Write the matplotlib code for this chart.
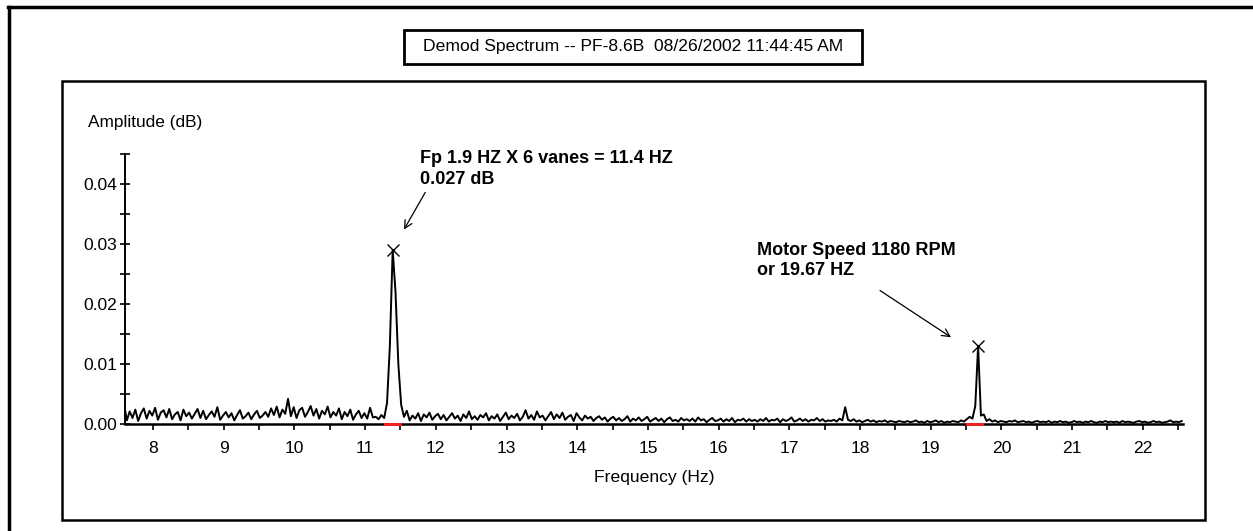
import numpy as np
import matplotlib
matplotlib.use('Agg')
import matplotlib.pyplot as plt
from matplotlib.patches import Rectangle
from matplotlib.lines import Line2D
from matplotlib.ticker import MultipleLocator, FormatStrFormatter

plt.rcParams['font.family'] = ['Liberation Sans', 'DejaVu Sans']

# spectrum, one value every 0.04 Hz starting at 7.59 Hz, amplitude in units of 0.001 dB
freq_start = 7.59
freq_step = 0.04
amp_x1000 = [
    3.4, 0.6, 2.1, 1.0, 2.4, 0.5, 1.8, 2.6, 0.9, 2.2, 1.4, 2.7, 0.7, 1.9, 2.3, 1.1, 2.5, 0.8, 1.6, 2.0, 0.6, 2.4, 1.3, 1.9, 0.9,
    1.7, 2.5, 1.0, 2.2, 0.8, 1.5, 2.1, 1.2, 2.8, 0.7, 1.4, 2.0, 1.1, 1.8, 0.6, 1.5, 2.3, 0.9, 1.3, 1.9, 0.8, 1.6, 2.2, 1.0, 1.4,
    2.0, 1.2, 2.6, 1.5, 2.9, 1.1, 2.4, 1.7, 4.2, 1.3, 2.8, 1.0, 2.3, 2.7, 1.2, 2.0, 3.0, 1.4, 2.5, 0.9, 2.2, 1.6, 2.9, 1.1, 2.0,
    1.4, 2.6, 0.8, 2.0, 1.3, 2.4, 0.7, 1.6, 2.2, 1.0, 1.8, 0.9, 2.7, 1.1, 1.2, 0.8, 1.5, 1.0, 3.5, 13.0, 29.0, 22.0, 10.0, 3.2, 1.2,
    2.2, 0.6, 1.4, 0.9, 1.8, 0.5, 1.6, 1.1, 1.9, 0.7, 1.3, 1.7, 0.8, 1.5, 0.6, 1.2, 1.8, 0.9, 1.4, 0.5, 1.6, 1.0, 2.1, 0.8, 1.3,
    0.7, 1.5, 1.1, 1.8, 0.6, 1.3, 0.9, 1.6, 0.5, 1.2, 1.9, 0.8, 1.4, 1.0, 1.7, 0.6, 1.2, 2.3, 0.9, 1.5, 0.7, 2.1, 1.1, 1.4, 0.6,
    1.3, 2.0, 0.8, 1.6, 1.0, 1.9, 0.7, 1.2, 1.5, 0.5, 1.8, 1.1, 0.6, 1.4, 0.9, 1.2, 0.5, 1.0, 1.3, 0.7, 1.1, 0.4, 0.9, 1.2, 0.6,
    1.0, 0.5, 0.8, 1.3, 0.4, 0.9, 0.6, 1.1, 0.5, 0.8, 1.2, 0.4, 0.7, 1.0, 0.5, 0.9, 0.3, 0.8, 1.1, 0.5, 0.7, 0.4, 1.0, 0.6, 0.8,
    0.5, 0.9, 0.4, 1.1, 0.6, 0.8, 0.3, 0.7, 1.0, 0.5, 0.6, 0.9, 0.4, 0.8, 0.5, 1.0, 0.3, 0.7, 0.6, 0.9, 0.4, 0.8, 0.5, 0.7, 0.4,
    0.8, 0.5, 1.0, 0.4, 0.7, 0.6, 0.9, 0.3, 0.8, 0.5, 0.7, 1.1, 0.4, 0.6, 0.9, 0.5, 0.8, 0.4, 0.7, 0.6, 1.0, 0.5, 0.8, 0.4, 0.6,
    0.5, 0.7, 0.4, 0.9, 0.6, 2.8, 0.7, 0.5, 0.8, 0.4, 0.6, 0.3, 0.5, 0.7, 0.4, 0.6, 0.3, 0.5, 0.4, 0.6, 0.3, 0.5, 0.4, 0.3, 0.5,
    0.4, 0.3, 0.5, 0.3, 0.4, 0.6, 0.3, 0.4, 0.2, 0.5, 0.3, 0.4, 0.6, 0.3, 0.5, 0.2, 0.4, 0.3, 0.5, 0.4, 0.3, 0.6, 0.4, 0.8, 1.2,
    0.9, 3.0, 13.0, 1.4, 1.6, 0.5, 0.8, 0.4, 0.6, 0.3, 0.5, 0.4, 0.3, 0.5, 0.4, 0.6, 0.3, 0.4, 0.5, 0.3, 0.4, 0.2, 0.4, 0.5, 0.3,
    0.4, 0.3, 0.5, 0.2, 0.4, 0.3, 0.5, 0.3, 0.4, 0.2, 0.3, 0.5, 0.3, 0.4, 0.2, 0.4, 0.3, 0.5, 0.3, 0.2, 0.4, 0.3, 0.5, 0.3, 0.4,
    0.3, 0.4, 0.2, 0.5, 0.3, 0.4, 0.3, 0.2, 0.4, 0.5, 0.3, 0.4, 0.2, 0.3, 0.5, 0.3, 0.4, 0.2, 0.3, 0.4, 0.6, 0.3, 0.4, 0.3, 0.5,
]
# frequency bands flagged in red on the x axis
bands = [(11.28, 11.49), (19.51, 19.73)]
# peak search windows for the X markers
peak_windows = [(11.2, 11.6), (19.5, 19.8)]

title = 'Demod Spectrum -- PF-8.6B  08/26/2002 11:44:45 AM'
note1 = 'Fp 1.9 HZ X 6 vanes = 11.4 HZ\n0.027 dB'
note2 = 'Motor Speed 1180 RPM\nor 19.67 HZ'

amp = np.array(amp_x1000) / 1000.0
freq = freq_start + freq_step * np.arange(len(amp))

W, H = 1253, 531
fig = plt.figure(figsize=(W / 100, H / 100), dpi=100)


def px(x, y):
    return x / W, 1 - y / H


# outer frame (top and left edges)
fig.add_artist(Line2D([px(8, 0)[0], 1], [px(0, 7)[1]] * 2, color='black', lw=2.5, transform=fig.transFigure))
fig.add_artist(Line2D([px(9, 0)[0]] * 2, [px(0, 7)[1], 0], color='black', lw=2.5, transform=fig.transFigure))

# inner frame
x0, y0 = px(62, 520)
x1, y1 = px(1205, 81)
fig.add_artist(Rectangle((x0, y0), x1 - x0, y1 - y0, fill=False, ec='black', lw=1.8, transform=fig.transFigure))

# title box
bx0, by0 = px(404, 64)
bx1, by1 = px(862, 30)
fig.add_artist(Rectangle((bx0, by0), bx1 - bx0, by1 - by0, fill=True, fc='white', ec='black', lw=2.0,
                         transform=fig.transFigure))
fig.text((bx0 + bx1) / 2, (by0 + by1) / 2, title, ha='center', va='center', fontsize=12.6)

ax = fig.add_axes([125 / W, 107 / H, 1058 / W, 270 / H])
ax.plot(freq, amp, color='black', lw=1.4, zorder=3)

for lo, hi in bands:
    ax.plot([lo, hi], [0, 0], color='#ff2020', lw=2, zorder=4, clip_on=False)

for lo, hi in peak_windows:
    sel = (freq >= lo) & (freq <= hi)
    i = np.argmax(np.where(sel, amp, -1))
    ax.plot(freq[i], amp[i], marker='x', ms=8, mew=1.0, color='black', zorder=5)

ax.set_xlim(7.604, 22.568)
ax.set_ylim(0, 0.045)
for s in ['top', 'right']:
    ax.spines[s].set_visible(False)
ax.spines['left'].set_linewidth(1.4)
ax.spines['bottom'].set_linewidth(1.8)

ax.xaxis.set_major_locator(MultipleLocator(1))
ax.xaxis.set_minor_locator(MultipleLocator(0.5))
ax.yaxis.set_major_locator(MultipleLocator(0.01))
ax.yaxis.set_minor_locator(MultipleLocator(0.005))
ax.yaxis.set_major_formatter(FormatStrFormatter('%.2f'))
ax.tick_params(axis='x', which='both', direction='out', length=4, width=1.2, pad=8, labelsize=12.6)
ax.tick_params(axis='y', which='both', direction='inout', length=7, width=1.2, pad=2, labelsize=12.6)
ax.patch.set_alpha(0)

ax.text(-0.035, 1.115, 'Amplitude (dB)', transform=ax.transAxes, ha='left', va='center', fontsize=12.4)
ax.set_xlabel('Frequency (Hz)', fontsize=12.6, labelpad=10)

arrow = dict(arrowstyle='->', color='black', lw=0.9, mutation_scale=14)
p1 = np.argmax(amp)
ax.annotate('', xy=(freq[p1] + 0.14, 0.032), xytext=(freq[p1] + 0.48, 0.039), arrowprops=arrow)
ax.text(11.78, 0.0425, note1, ha='left', va='center', fontsize=13, fontweight='bold', linespacing=1.25)

ax.annotate('', xy=(19.32, 0.0142), xytext=(18.25, 0.0225), arrowprops=arrow)
ax.text(16.54, 0.0272, note2, ha='left', va='center', fontsize=13, fontweight='bold', linespacing=1.25)

plt.savefig('out.png', dpi=100)
